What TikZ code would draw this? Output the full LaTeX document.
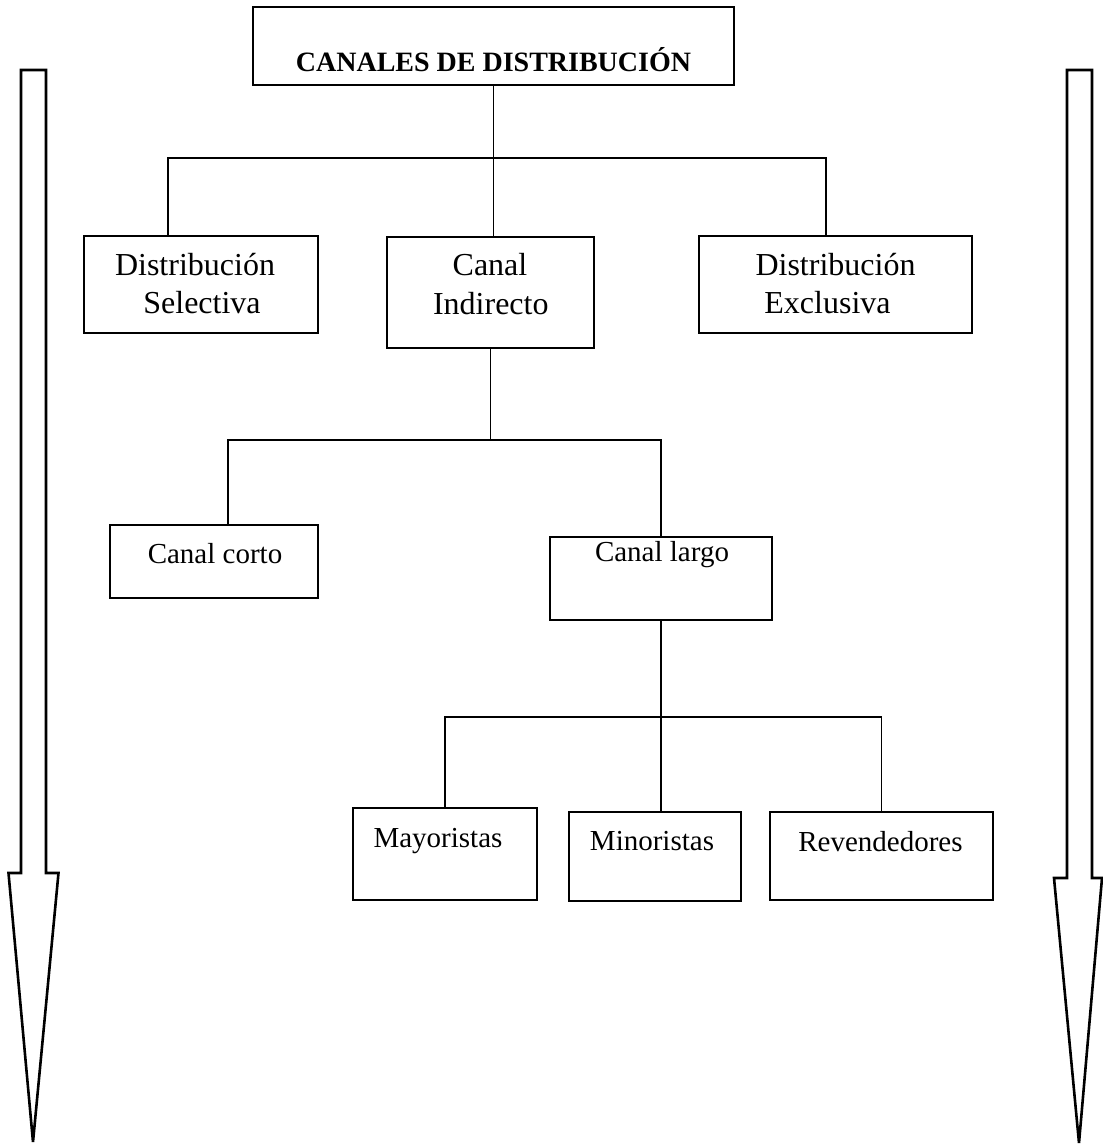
\documentclass[tikz,border=0pt]{standalone}
\usepackage{fontspec}
\setmainfont{Liberation Serif}
\begin{document}
\begin{tikzpicture}[x=1pt,y=-1pt,
  box/.style={draw, line width=1.9pt, inner sep=0pt},
  lbl/.style={anchor=base, inner sep=0pt, font=\fontsize{29}{38}\selectfont},
  biglbl/.style={anchor=base, inner sep=0pt, font=\fontsize{32}{38}\selectfont},
  ttl/.style={anchor=base, inner sep=0pt, font=\bfseries\fontsize{28}{34}\selectfont},
  link/.style={line width=1.8pt},
  bigarrow/.style={draw, line width=2.6pt, line join=miter}]

\useasboundingbox (0,0) rectangle (1103,1144);

% boxes of the tree
\node[box, minimum width=481pt, minimum height=78pt]  (top)   at (493.5,46)   {};
\node[box, minimum width=234pt, minimum height=97pt]  (sel)   at (201,284.5)  {};
\node[box, minimum width=207pt, minimum height=111pt] (ind)   at (490.5,292.5){};
\node[box, minimum width=273pt, minimum height=97pt]  (exc)   at (835.5,284.5){};
\node[box, minimum width=208pt, minimum height=73pt]  (corto) at (214,561.5)  {};
\node[box, minimum width=222pt, minimum height=83pt]  (largo) at (661,578.5)  {};
\node[box, minimum width=184pt, minimum height=92pt]  (may)   at (445,854)    {};
\node[box, minimum width=172pt, minimum height=89pt]  (min)   at (655,856.5)  {};
\node[box, minimum width=223pt, minimum height=88pt]  (rev)   at (881.5,856)  {};

% texts
\node[ttl] (ttop) at (493.5,71) {CANALES DE DISTRIBUCIÓN};
\node[biglbl] (sel1) at (195,275) {Distribución};
\node[biglbl] (sel2) at (202,313) {Selectiva};
\node[biglbl] (ind1) at (490,275) {Canal};
\node[biglbl] (ind2) at (490.8,314) {Indirecto};
\node[biglbl] (exc1) at (835.5,275) {Distribución};
\node[biglbl] (exc2) at (827.5,313) {Exclusiva};
\node[lbl] (cort) at (215,563) {Canal corto};
\node[lbl] (larg) at (662,561) {Canal largo};
\node[lbl] (mayt) at (438,847) {Mayoristas};
\node[lbl] (mint) at (652,850) {Minoristas};
\node[lbl] (revt) at (880.5,851) {Revendedores};

% connectors
\coordinate (j1) at (494,158);
\coordinate (j2) at (490.5,440);
\coordinate (j3) at (661,717);
\draw[link] (top.south) -- (top.south |- ind.north);
\draw[link] ([xshift=-33pt]sel.north) |- (j1) -| ([xshift=-9.5pt]exc.north);
\draw[link] (ind.south) -- (j2);
\draw[link] ([xshift=14pt]corto.north) |- (j2) -| (largo.north);
\draw[link] (largo.south) -- (largo.south |- min.north);
\draw[link] (may.north) |- (j3) -| (rev.north);

% side arrows
\draw[bigarrow] (21,70) -- (46,70) -- (46,873) -- (58.5,873) -- (33,1142) -- (8.5,873) -- (21,873) -- cycle;
\draw[bigarrow] (1067,70) -- (1092,70) -- (1092,878) -- (1102,878) -- (1079,1143) -- (1054,878) -- (1067,878) -- cycle;
\end{tikzpicture}
\end{document}
